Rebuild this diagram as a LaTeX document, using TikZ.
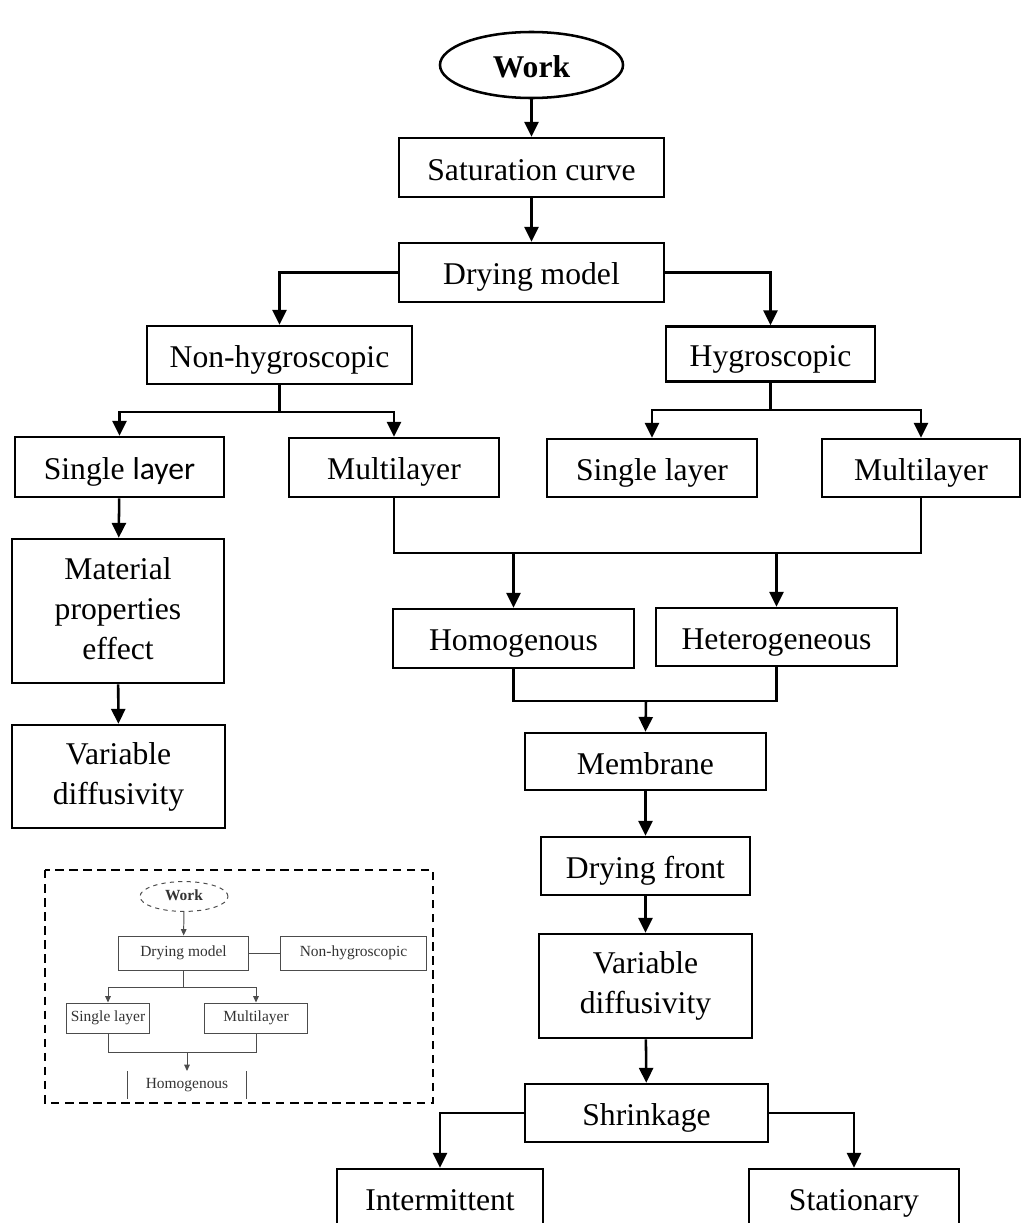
\documentclass[tikz,border=0pt]{standalone}
\usepackage{fontspec}
\setmainfont{Liberation Serif}
\newfontfamily\calfont{Carlito}
\usepackage{tikz}
\usetikzlibrary{shapes,arrows,positioning,calc,arrows.meta}

\newcommand\boxstrut{\rule[-4pt]{0pt}{26pt}}

\tikzset{
    block/.style={draw, line width=1.8pt, align=center, inner sep=2pt,
        font=\fontsize{22.5}{28.5}\selectfont,
        execute at begin node=\boxstrut, execute at end node=\boxstrut},
    tall/.style={execute at begin node={}, execute at end node={}},
    arr/.style={-{Triangle[length=0.37cm,width=0.35cm]}},
    mini/.style={draw=black!70, line width=0.7pt, align=center, inner sep=1pt,
        text=black!80, font=\fontsize{11}{13}\selectfont,
        execute at begin node=\strut},
    miniarr/.style={-{Triangle[length=0.16cm,width=0.14cm]}}
}

\begin{document}
\begin{tikzpicture}[x=0.025cm, y=-0.025cm, line width=1.8pt]
    \useasboundingbox (0,0) rectangle (1020,1223);

    \node[block, ellipse, minimum width=4.575cm, minimum height=1.65cm] (work) at (531.5,65) {\textbf{Work}};
    \node[block, minimum width=6.625cm, minimum height=1.475cm] (sat) at (531.5,167.5) {Saturation curve};
    \node[block, minimum width=6.625cm, minimum height=1.475cm] (dry) at (531.5,272.5) {Drying model};
    \node[block, minimum width=6.625cm, minimum height=1.45cm] (nonhyg) at (279.5,355) {Non-hygroscopic};
    \node[block, minimum width=5.225cm, minimum height=1.375cm] (hyg) at (770.5,354) {Hygroscopic};

    \node[block, minimum width=5.225cm, minimum height=1.5cm] (sl1) at (119.5,467) {Single {\calfont layer}};
    \node[block, minimum width=5.25cm, minimum height=1.475cm] (ml1) at (394,467.5) {Multilayer};
    \node[block, minimum width=5.25cm, minimum height=1.45cm] (sl2) at (652,468) {Single layer};
    \node[block, minimum width=4.95cm, minimum height=1.45cm] (ml2) at (921,468) {Multilayer};

    \node[block, tall, minimum width=5.3cm, minimum height=3.6cm] (mat) at (118,611) {Material\\properties\\effect};
    \node[block, tall, minimum width=5.325cm, minimum height=2.575cm] (vd1) at (118.5,776.5) {Variable\\diffusivity};

    \node[block, minimum width=6.025cm, minimum height=1.475cm] (homo) at (513.5,638.5) {Homogenous};
    \node[block, minimum width=6.025cm, minimum height=1.45cm] (hetero) at (776.5,637) {Heterogeneous};
    \node[block, minimum width=6.025cm, minimum height=1.425cm] (memb) at (645.5,761.5) {Membrane};
    \node[block, minimum width=5.225cm, minimum height=1.45cm] (front) at (645.5,866) {Drying front};
    \node[block, tall, minimum width=5.325cm, minimum height=2.6cm] (vd2) at (645.5,986) {Variable\\diffusivity};
    \node[block, minimum width=6.075cm, minimum height=1.45cm] (shrink) at (646.5,1113) {Shrinkage};
    \node[block, minimum width=5.15cm, minimum height=1.45cm] (inter) at (440,1198) {Intermittent};
    \node[block, minimum width=5.25cm, minimum height=1.45cm] (stat) at (854,1198) {Stationary};

    \coordinate (nb) at (279.5,412);
    \coordinate (hb) at (770.5,410);
    \coordinate (mm) at (650,553);
    \coordinate (hm) at (646,701);

    \draw[arr] (work) -- (sat);
    \draw[arr] (sat) -- (dry);
    \draw[arr] (dry.west) -| (nonhyg.north);
    \draw[arr] (dry.east) -| (hyg.north);

    \draw (nonhyg.south) -- (nb);
    \draw[arr] (nb) -| (sl1.north);
    \draw[arr] (nb) -| (ml1.north);
    \draw (hyg.south) -- (hb);
    \draw[arr] (hb) -| (sl2.north);
    \draw[arr] (hb) -| (ml2.north);

    \draw[arr] (sl1) -- (mat);
    \draw[arr] (mat) -- (vd1);

    \draw (ml1.south) |- (mm) -| (ml2.south);
    \draw[arr] (homo.north |- mm) -- (homo.north);
    \draw[arr] (hetero.north |- mm) -- (hetero.north);
    \draw (homo.south) |- (hm) -| (hetero.south);
    \draw[arr] (hm) -- (memb.north);

    \draw[arr] (memb) -- (front);
    \draw[arr] (front) -- (vd2);
    \draw[arr] (vd2) -- (shrink);
    \draw[arr] (shrink.west) -| (inter.north);
    \draw[arr] (shrink.east) -| (stat.north);

    % small copy in the dashed frame
    \draw[line width=1.2pt, dash pattern=on 6pt off 4pt] (45,870) rectangle (433,1103);

    \node[mini, ellipse, dashed, minimum width=2.2cm, minimum height=0.675cm] (swork) at (184,896.5) {\textbf{Work}};
    \node[mini, minimum width=3.225cm, minimum height=0.85cm] (sdry) at (183.5,953) {Drying model};
    \node[mini, minimum width=3.625cm, minimum height=0.85cm] (snonhyg) at (353.5,953) {Non-hygroscopic};
    \node[mini, minimum width=2.05cm, minimum height=0.75cm] (ssl) at (108,1018) {Single layer};
    \node[mini, minimum width=2.55cm, minimum height=0.75cm] (sml) at (256,1018) {Multilayer};
    \node[mini, draw=none, minimum width=2.95cm, minimum height=0.675cm] (shomo) at (187,1085) {Homogenous};

    \coordinate (sb) at (183.5,987);
    \coordinate (sm) at (187,1052);

    \begin{scope}[line width=0.7pt, draw=black!70]
        \draw[miniarr] (swork) -- (sdry);
        \draw (sdry) -- (snonhyg);
        \draw (sdry.south) -- (sb);
        \draw[miniarr] (sb) -| (ssl.north);
        \draw[miniarr] (sb) -| (sml.north);
        \draw (ssl.south) |- (sm) -| (sml.south);
        \draw[miniarr] (sm) -- (shomo.north);
        \draw (shomo.north west) -- (shomo.south west);
        \draw (shomo.north east) -- (shomo.south east);
    \end{scope}
\end{tikzpicture}
\end{document}
